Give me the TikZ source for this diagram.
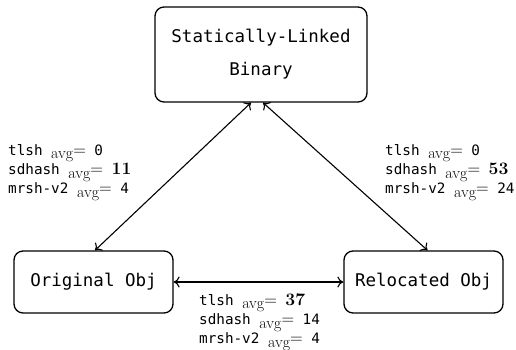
\documentclass[tikz,border=0pt]{standalone}
\usepackage{fontspec}
\setmonofont{DejaVu Sans Mono}
\usetikzlibrary{arrows.meta}
% serif subscript "avg" followed by an equals sign, and bold serif figures
\newcommand{\avgsub}{\raisebox{-3.8pt}{\rmfamily\fontsize{16}{16}\selectfont avg}{\rmfamily\fontsize{17.5}{17.5}\selectfont =}}
\newcommand{\bnum}[1]{{\rmfamily\bfseries\fontsize{17.5}{17.5}\selectfont #1}}
\tikzset{
  stage/.style={draw, line width=1.3pt, rounded corners=9pt, font=\fontsize{17.5}{33}\selectfont\ttfamily, align=center, inner sep=0pt},
  link/.style={line width=1.1pt, {To[length=6pt,width=11pt]}-{To[length=6pt,width=11pt]}},
  scores/.style={font=\fontsize{14.3}{19.3}\selectfont\ttfamily, align=left, inner sep=0pt}
}
\begin{document}
\begin{tikzpicture}[x=1pt,y=1pt]
\useasboundingbox (0,0) rectangle (516,350);
\node[stage, minimum width=212pt, minimum height=95pt] (bin) at (261,295.5) {Statically-Linked\\Binary};
\node[stage, minimum width=159pt, minimum height=62pt] (orig) at (93.5,68) {Original Obj};
\node[stage, minimum width=159pt, minimum height=62pt] (reloc) at (423.5,68) {Relocated Obj};

\draw[link] ([xshift=-10pt]bin.south) -- ([xshift=1.5pt]orig.north);
\draw[link] ([xshift=2pt]bin.south) -- ([xshift=4pt]reloc.north);
\draw[link] (orig.east) -- (reloc.west);

\node[scores, anchor=north west] (sl) at (8,206) {tlsh \avgsub{} 0\\sdhash \avgsub{} \bnum{11}\\mrsh-v2 \avgsub{} 4};
\node[scores, anchor=north west] (sr) at (385,206) {tlsh \avgsub{} 0\\sdhash \avgsub{} \bnum{53}\\mrsh-v2 \avgsub{} 24};
\node[scores, anchor=north west] (sb) at (199,57) {tlsh \avgsub{} \bnum{37}\\sdhash \avgsub{} 14\\mrsh-v2 \avgsub{} 4};
\end{tikzpicture}
\end{document}
